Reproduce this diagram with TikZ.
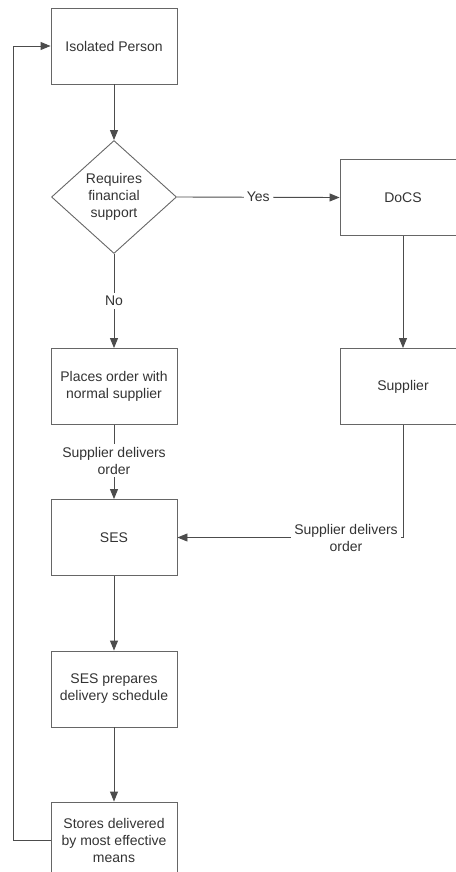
\documentclass[tikz,border=0pt]{standalone}
\usepackage{fontspec}
\setmainfont{Liberation Sans}
\usetikzlibrary{shapes.geometric,arrows.meta}
\begin{document}
\begin{tikzpicture}[x=1pt,y=-1pt,
  every node/.style={font=\fontsize{14}{17}\selectfont, text=black!80},
  procbox/.style={draw=black!60, line width=0.9pt, minimum width=126pt, minimum height=76pt, inner sep=0pt, align=center},
  decision/.style={draw=black!60, line width=0.9pt, shape=diamond, minimum width=125pt, minimum height=113pt, inner sep=0pt, align=center},
  lbl/.style={fill=white, inner sep=3pt, align=center},
  conn/.style={draw=black!60, line width=0.9pt},
  arr/.style={conn, -{Triangle[length=10pt,width=8pt]}, black!70}
]
\useasboundingbox (0,0) rectangle (455,872);
\node[procbox] (iso) at (114,46) {Isolated Person};
\node[decision] (dec) at (114,197) {Requires\\financial\\support};
\node[procbox] (docs) at (403,197.5) {DoCS};
\node[procbox] (supp) at (403,386.5) {Supplier};
\node[procbox] (place) at (114,386.5) {Places order with\\normal supplier};
\node[procbox] (ses) at (114,537.5) {SES};
\node[procbox] (prep) at (114,689) {SES prepares\\delivery schedule};
\node[procbox] (store) at (114,840) {Stores delivered\\by most effective\\means};
\coordinate (c1) at (403,537.5);
\coordinate (l1) at (13,840);
\coordinate (l2) at (13,46);

\draw[arr] (iso) -- (dec);
\draw[arr] (dec.east) -- node[lbl] (yes) {Yes} (docs.west);
\draw[arr] (dec.south) -- node[lbl] (no) {No} (place.north);
\draw[arr] (docs) -- (supp);
\draw[arr] (place) -- node[lbl, pos=0.48] (sd1) {Supplier delivers\\order} (ses);
\draw[arr] (supp.south) -- (c1) -- (ses.east);
\node[lbl] (sd2) at (346,537.5) {Supplier delivers\\order};
\draw[arr] (prep) -- (store);
\draw[arr] (ses) -- (prep);
\draw[arr] (store.west) -- (l1) -- (l2) -- (iso.west);
\end{tikzpicture}
\end{document}
